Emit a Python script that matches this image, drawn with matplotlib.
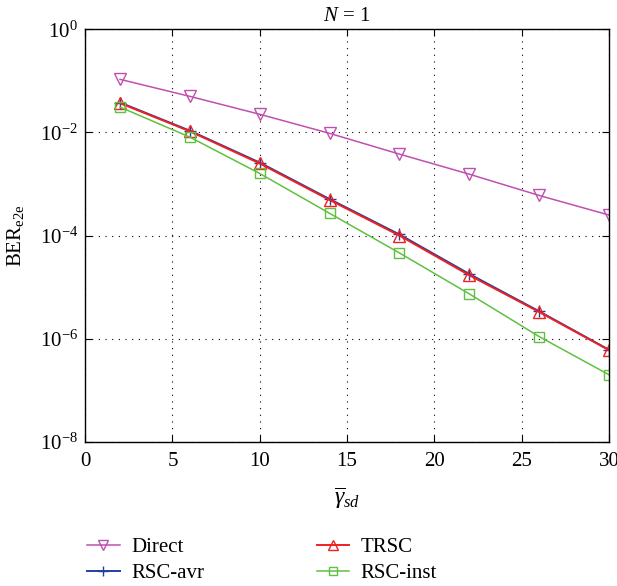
import matplotlib; matplotlib.use("Agg")
import matplotlib.pyplot as plt

plt.rcParams["font.family"] = "Liberation Serif"
plt.rcParams["mathtext.fontset"] = "custom"
plt.rcParams["mathtext.rm"] = "Liberation Serif"
plt.rcParams["mathtext.it"] = "Liberation Serif:italic"

snr = [2, 6, 10, 14, 18, 22, 26, 30]
ber_direct = [0.107, 0.05, 0.0225, 0.0096, 0.0038, 0.00155, 6.0e-4, 2.5e-4]
ber_trsc = [0.037, 0.0105, 0.0025, 4.9e-4, 1.0e-4, 1.7e-5, 3.3e-6, 6.0e-7]
ber_avr = [0.038, 0.0108, 0.0026, 5.1e-4, 1.05e-4, 1.8e-5, 3.4e-6, 6.1e-7]
ber_inst = [0.031, 0.0081, 0.0016, 2.7e-4, 4.6e-5, 7.4e-6, 1.1e-6, 2.0e-7]

fig = plt.figure(figsize=(6.17, 5.86), dpi=100)
ax = fig.add_axes([0.138, 0.246, 0.849, 0.704])

l1, = ax.semilogy(snr, ber_direct, color="#c050b0", marker="v", ms=9, mfc="none", lw=1.1, label="Direct")
l2, = ax.semilogy(snr, ber_avr, color="#2040a0", marker="+", ms=9, lw=1.4, label="RSC-avr")
l3, = ax.semilogy(snr, ber_trsc, color="#f02020", marker="^", ms=9, mfc="none", lw=1.4, label="TRSC")
l4, = ax.semilogy(snr, ber_inst, color="#60c040", marker="s", ms=7, mfc="none", lw=1.1, label="RSC-inst")

ax.set_xlim(0, 30)
ax.set_ylim(1e-8, 1)
ax.set_xticks([0, 5, 10, 15, 20, 25, 30])
ax.set_yticks([1e0, 1e-2, 1e-4, 1e-6, 1e-8])
ax.minorticks_off()
ax.grid(True, ls=(0, (1, 5)), color="black", lw=0.8)
ax.tick_params(direction="in", top=True, right=True, labelsize=15, length=5)
ax.tick_params(axis="x", pad=7)
ax.tick_params(axis="y", pad=5)
for s in ax.spines.values():
    s.set_linewidth(1.0)

ax.set_title(r"$N$ = 1", fontsize=15, pad=6)
ax.set_xlabel(r"$\overline{\gamma}_{sd}$", fontsize=17, labelpad=11)
ax.set_ylabel(r"BER$_{\mathrm{e2e}}$", fontsize=15, labelpad=10)

fig.legend(handles=[l1, l2, l3, l4], loc="upper left", bbox_to_anchor=(0.128, 0.097),
           borderaxespad=0, ncol=2, frameon=False, fontsize=15, handlelength=1.55,
           handletextpad=0.55, columnspacing=5.4, labelspacing=0.3, markerscale=0.8)

fig.savefig("out.png", dpi=100)
